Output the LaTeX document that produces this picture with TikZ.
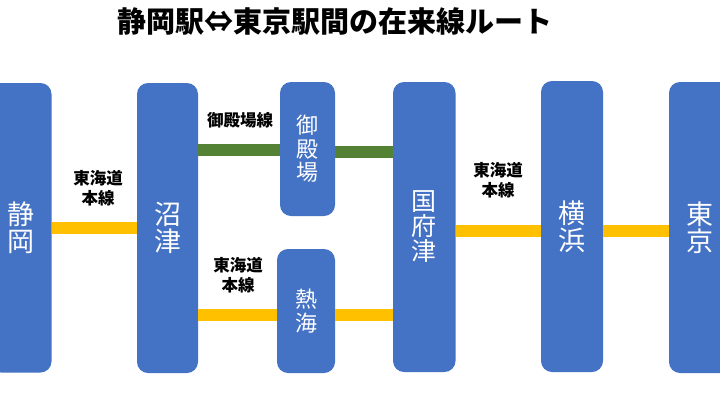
\documentclass[tikz,border=0pt]{standalone}
\usepackage{fontspec}
\newfontfamily\jp{Noto Sans CJK JP}
\definecolor{stblue}{HTML}{4472C4}
\definecolor{lineyel}{HTML}{FFC000}
\definecolor{linegrn}{HTML}{548235}
\tikzset{
  station/.style={fill=stblue, rounded corners=11pt, inner sep=0pt, align=center,
    text=white, font=\jp\fontsize{27}{27}\selectfont},
  midstation/.style={station, font=\jp\fontsize{25}{25}\selectfont},
  smallstation/.style={station, font=\jp\fontsize{22}{23.5}\selectfont},
  yelline/.style={draw=lineyel, line width=12pt},
  grnline/.style={draw=linegrn, line width=12pt},
  linelabel/.style={align=center, inner sep=0pt, font=\jp\bfseries\fontsize{16.5}{20}\selectfont},
  titletext/.style={inner sep=0pt, font=\jp\bfseries\fontsize{29}{29}\selectfont}
}
\begin{document}
\begin{tikzpicture}[x=1pt,y=-1pt]
\useasboundingbox (0,0) rectangle (720,405);
\fill[white] (0,0) rectangle (720,405);
\node[titletext] (title) at (335,21.5) {静岡駅⇔東京駅間の在来線ルート};

\node[station, minimum width=61.5pt, minimum height=289.5pt] (shizuoka) at (20.75,227.75) {静\\岡};
\node[station, minimum width=61pt, minimum height=290pt] (numazu) at (167.5,228) {沼\\津};
\node[smallstation, minimum width=55pt, minimum height=134pt] (gotemba) at (307.5,149) {御\\殿\\場};
\node[smallstation, minimum width=58pt, minimum height=124pt] (atami) at (306,311) {熱\\海};
\node[midstation, minimum width=62.5pt, minimum height=290pt] (kozu) at (424.25,227) {国\\府\\津};
\node[station, minimum width=62pt, minimum height=291pt] (yokohama) at (572,226.5) {横\\浜};
\node[station, minimum width=62pt, minimum height=291pt] (tokyo) at (700,227.5) {東\\京};

\coordinate (ya) at (0,228);
\coordinate (yb) at (0,150);
\coordinate (yc) at (0,152);
\coordinate (yd) at (0,314.5);
\coordinate (ye) at (0,315);
\coordinate (yf) at (0,231);

\draw[yelline] (shizuoka.east |- ya) -- (numazu.west |- ya);
\draw[grnline] (numazu.east |- yb) -- (gotemba.west |- yb);
\draw[grnline] (gotemba.east |- yc) -- (kozu.west |- yc);
\draw[yelline] (numazu.east |- yd) -- (atami.west |- yd);
\draw[yelline] (atami.east |- ye) -- (kozu.west |- ye);
\draw[yelline] (kozu.east |- yf) -- (yokohama.west |- yf);
\draw[yelline] (yokohama.east |- yf) -- (tokyo.west |- yf);

\node[linelabel] (lab1) at (98,188) {東海道\\本線};
\node[linelabel] (lab2) at (240,120) {御殿場線};
\node[linelabel] (lab3) at (238,275) {東海道\\本線};
\node[linelabel] (lab4) at (498,180) {東海道\\本線};
\end{tikzpicture}
\end{document}
